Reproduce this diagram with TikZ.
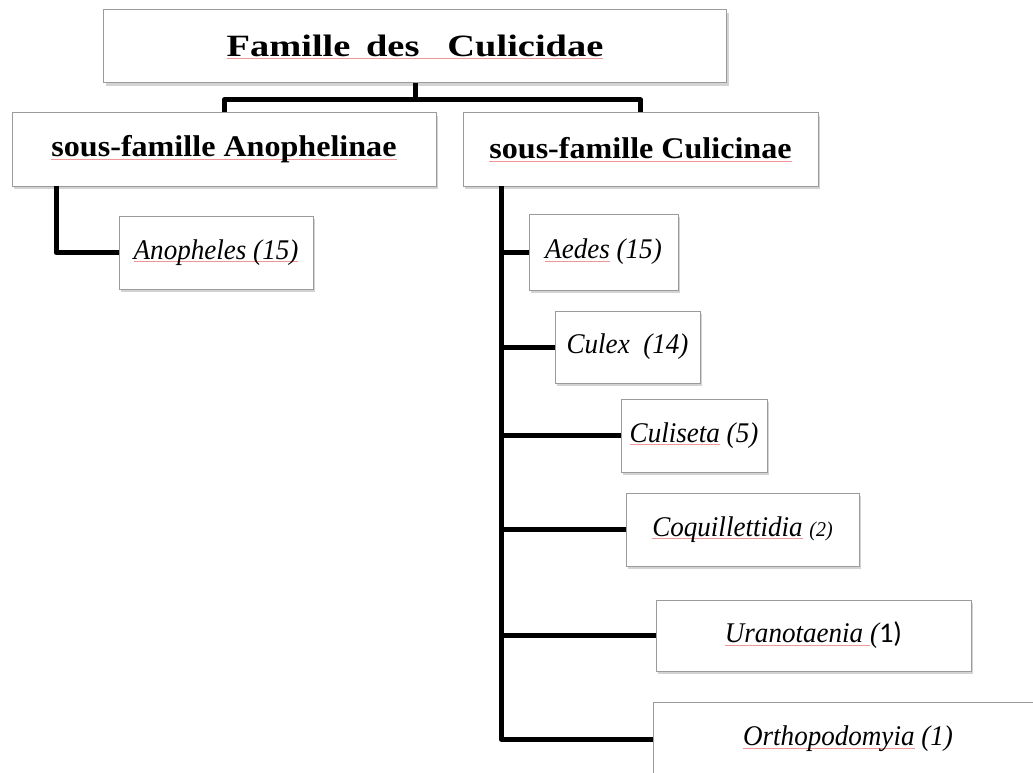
\documentclass[tikz,border=0pt]{standalone}
\usepackage{fontspec}
\setmainfont{Liberation Serif}
\newfontfamily\titlefont[FakeStretch=1.24]{Liberation Serif}
\newfontfamily\subfont[FakeStretch=1.07]{Liberation Serif}
\newfontfamily\genfont[FakeStretch=0.95]{Liberation Serif}
\newfontfamily\carlito{Carlito}
\usetikzlibrary{shadows}
\definecolor{boxgray}{RGB}{155,155,155}
\definecolor{spellred}{RGB}{240,150,150}
\newcommand\spellu[1]{\setbox0\hbox{#1}\rlap{\color{spellred}\rule[-2.5pt]{\wd0}{0.7pt}}\box0\relax}
\tikzset{
  box/.style={draw=boxgray, line width=1pt, fill=white, inner sep=0pt,
    drop shadow={shadow xshift=2pt, shadow yshift=-3pt, opacity=0.35}},
  titlebox/.style={box, font=\titlefont\bfseries\fontsize{31}{36}\selectfont},
  subbox/.style={box, font=\subfont\bfseries\fontsize{30}{35}\selectfont},
  genbox/.style={box, font=\genfont\itshape\fontsize{28.5}{33}\selectfont},
  conn/.style={line width=5pt, line join=round, draw=black}
}
\begin{document}
\begin{tikzpicture}[x=1pt,y=-1pt]
\useasboundingbox (0,0) rectangle (1033,773);
\clip (0,0) rectangle (1033,773);
% boxes
\node[titlebox, minimum width=623pt, minimum height=73pt] (top) at (415,46.5)
  {\spellu{Famille\hspace{6pt} des\hspace{28pt}Culicidae}};
\node[subbox, minimum width=424pt, minimum height=73pt] (anoph) at (224,149.5)
  {\spellu{sous-famille Anophelinae}};
\node[subbox, minimum width=355pt, minimum height=73pt] (culic) at (640.5,149.5)
  {\spellu{sous-famille Culicinae}};
\node[genbox, minimum width=194pt, minimum height=73pt] (anopheles) at (216,252.5)
  {\spellu{Anopheles (15)}};
\node[genbox, minimum width=149pt, minimum height=76pt] (aedes) at (603.5,252)
  {\spellu{Aedes} (15)};
\node[genbox, minimum width=145pt, minimum height=72pt] (culex) at (627.5,347)
  {Culex\ \ (14)};
\node[genbox, minimum width=146pt, minimum height=73pt] (culiseta) at (694,435.5)
  {\spellu{Culiseta} (5)};
\node[genbox, minimum width=233pt, minimum height=73pt] (coq) at (742.5,529.5)
  {\spellu{Coquillettidia} {\fontsize{21}{25}\selectfont(2)}};
\node[genbox, minimum width=315pt, minimum height=71pt] (ura) at (813.5,635.5)
  {\spellu{Uranotaenia }(\upshape\carlito 1)};
\node[genbox, minimum width=390pt, minimum height=74pt] (orth) at (848,739)
  {\spellu{Orthopodomyia} (1)};
% junction coordinates
\coordinate (bar) at (415,100);
\coordinate (ls) at (56,186);
\coordinate (rs) at (501,186);
% connectors
\draw[conn] (top.south) -- (bar);
\draw[conn] (anoph.north) |- (bar) -| (culic.north);
\draw[conn] (ls) |- (anopheles.west);
\draw[conn] (rs) |- (orth.west);
\draw[conn] (rs |- aedes.west) -- (aedes.west);
\draw[conn] (rs |- culex.west) -- (culex.west);
\draw[conn] (rs |- culiseta.west) -- (culiseta.west);
\draw[conn] (rs |- coq.west) -- (coq.west);
\draw[conn] (rs |- ura.west) -- (ura.west);
\end{tikzpicture}
\end{document}
